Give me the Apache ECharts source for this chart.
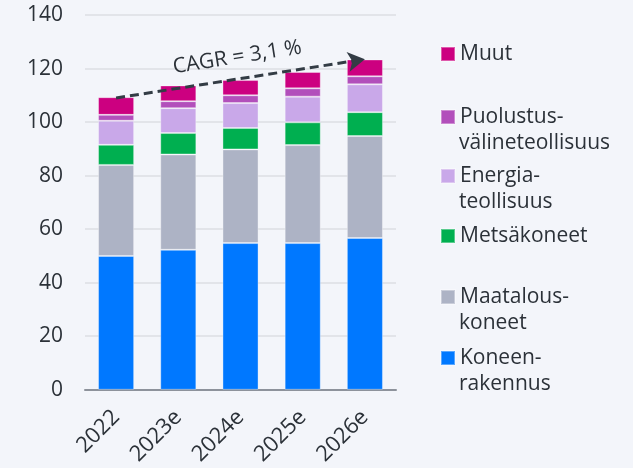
<!DOCTYPE html>
<html>
<head>
<meta charset="utf-8">
<script src="https://cdn.jsdelivr.net/npm/echarts@6/dist/echarts.min.js"></script>
<style>
  html, body { margin: 0; padding: 0; background: #f3f5fa; }
  #chart { width: 633px; height: 468px; }
</style>
</head>
<body>
<div id="chart"></div>
<script>
(function () {
    const years = ['2022', '2023e', '2024e', '2025e', '2026e'];
    const koneenrakennus = [50, 52.3, 54.8, 54.8, 56.7];
    const maatalouskoneet = [34, 35.6, 35, 36.6, 38.1];
    const metsakoneet = [7.5, 8, 8, 8.5, 8.9];
    const energiateollisuus = [9, 9.3, 9.3, 9.6, 10.4];
    const puolustus = [2.2, 2.6, 2.9, 3.1, 3];
    const muut = [6.6, 5.9, 5.7, 6.1, 6.3];
    const cagrStart = 109;
    const cagrEnd = 123.5;

    const font = 'Open Sans';
    const textColor = '#2b3138';
    const fontSize = 21;

    // legend label: first line next to the marker, optional second line below
    const seriesDefs = [
        { name: 'Koneenrakennus', lines: ['Koneen-', 'rakennus'], data: koneenrakennus, color: '#0078ff', y: 358 },
        { name: 'Maatalouskoneet', lines: ['Maatalous-', 'koneet'], data: maatalouskoneet, color: '#adb3c5', y: 297 },
        { name: 'Metsäkoneet', lines: ['Metsäkoneet'], data: metsakoneet, color: '#00af50', y: 236 },
        { name: 'Energiateollisuus', lines: ['Energia-', 'teollisuus'], data: energiateollisuus, color: '#c9a8e9', y: 176 },
        { name: 'Puolustusvälineteollisuus', lines: ['Puolustus-', 'välineteollisuus'], data: puolustus, color: '#b24fbb', y: 117 },
        { name: 'Muut', lines: ['Muut'], data: muut, color: '#cc0080', y: 54 }
    ];
    const lh = 26;

    const legends = seriesDefs.map(function (s) {
        return {
            data: [s.name],
            left: 440,
            top: s.y - 13,
            padding: 0,
            itemWidth: 14,
            itemHeight: 14,
            icon: 'rect',
            selectedMode: false,
            formatter: function () { return s.lines[0]; },
            textStyle: {
                fontFamily: font,
                fontSize: fontSize,
                color: textColor,
                lineHeight: lh
            }
        };
    });

    const secondLines = seriesDefs.filter(function (s) {
        return s.lines.length > 1;
    }).map(function (s) {
        return {
            type: 'text',
            x: 459,
            y: s.y + lh,
            style: {
                text: s.lines[1],
                fontFamily: font,
                fontSize: fontSize,
                fill: textColor,
                verticalAlign: 'middle'
            }
        };
    });

    const series = seriesDefs.map(function (s) {
        return {
            name: s.name,
            type: 'bar',
            stack: 'total',
            barWidth: '58%',
            itemStyle: {
                color: s.color,
                borderColor: 'rgba(255,255,255,0.35)',
                borderWidth: 1
            },
            data: s.data
        };
    });

    series[series.length - 1].markLine = {
        silent: true,
        symbol: ['none', 'arrow'],
        symbolSize: [15, 17],
        lineStyle: {
            color: '#333c45',
            width: 3,
            type: [9, 5]
        },
        label: {
            show: true,
            position: 'middle',
            formatter: 'CAGR = 3,1 %',
            fontFamily: font,
            fontSize: fontSize,
            color: textColor,
            distance: 11
        },
        data: [[
            { coord: ['2022', cagrStart] },
            { coord: ['2026e', cagrEnd] }
        ]]
    };

    const option = {
        backgroundColor: '#f3f5fa',
        animation: false,
        legend: legends,
        graphic: secondLines,
        grid: {
            left: 85,
            right: 237,
            top: 15,
            bottom: 78
        },
        xAxis: {
            type: 'category',
            data: years,
            axisTick: { show: false },
            axisLine: { lineStyle: { color: '#8d929b', width: 2 } },
            axisLabel: {
                rotate: 45,
                margin: 24,
                fontFamily: font,
                fontSize: 22,
                color: textColor
            }
        },
        yAxis: {
            type: 'value',
            min: 0,
            max: 140,
            interval: 20,
            axisLine: { show: false },
            axisTick: { show: false },
            splitLine: { lineStyle: { color: '#e2e4e9', width: 2 } },
            axisLabel: {
                margin: 22,
                fontFamily: font,
                fontSize: fontSize,
                color: textColor
            }
        },
        series: series
    };

    const myChart = echarts.init(document.getElementById('chart'));
    myChart.setOption(option);
}());
</script>
</body>
</html>
